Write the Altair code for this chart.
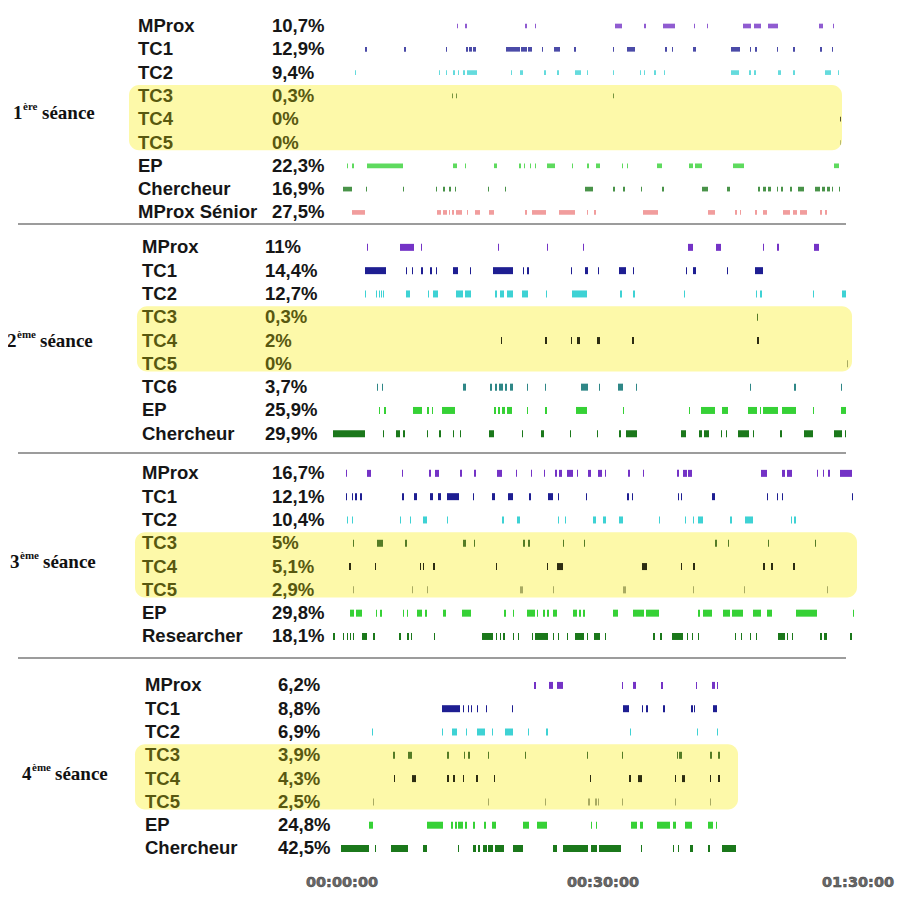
import altair as alt
import pandas as pd

# ---------------- data ----------------
session_numbers = ["1", "2", "3", "4"]
session_sup = ["ère", "ème", "ème", "ème"]
session_word = "séance"

s1_names = ["MProx", "TC1", "TC2", "TC3", "TC4", "TC5", "EP", "Chercheur", "MProx Sénior"]
s1_pcts = ["10,7%", "12,9%", "9,4%", "0,3%", "0%", "0%", "22,3%", "16,9%", "27,5%"]
s2_names = ["MProx", "TC1", "TC2", "TC3", "TC4", "TC5", "TC6", "EP", "Chercheur"]
s2_pcts = ["11%", "14,4%", "12,7%", "0,3%", "2%", "0%", "3,7%", "25,9%", "29,9%"]
s3_names = ["MProx", "TC1", "TC2", "TC3", "TC4", "TC5", "EP", "Researcher"]
s3_pcts = ["16,7%", "12,1%", "10,4%", "5%", "5,1%", "2,9%", "29,8%", "18,1%"]
s4_names = ["MProx", "TC1", "TC2", "TC3", "TC4", "TC5", "EP", "Chercheur"]
s4_pcts = ["6,2%", "8,8%", "6,9%", "3,9%", "4,3%", "2,5%", "24,8%", "42,5%"]

# speaking turns (start, end) on the timeline, one list per row
s1_turns = [
    [[117,118],[125,127],[185,187],[195,196],[275,282],[304,306],[323,335],[354,355],[367,368],[403,411],[414,421],[428,438],[479,483],[493,494]],
    [[25,27],[64,66],[106,107],[126,128],[129,132],[133,136],[166,180],[181,187],[188,192],[202,203],[214,220],[234,236],[273,274],[287,295],[325,327],[332,333],[353,356],[391,400],[410,411],[415,417],[437,438],[453,455],[480,482],[492,493]],
    [[15,16],[99,100],[106,107],[113,115],[118,119],[123,125],[127,137],[171,172],[180,183],[204,206],[217,219],[235,241],[247,248],[273,274],[300,301],[304,305],[314,316],[324,325],[391,399],[409,411],[414,416],[438,441],[453,455],[485,491],[498,499]],
    [[112,113],[116,117],[273,274]],
    [[500,501]],
    [[500,501]],
    [[7,8],[12,14],[27,63],[113,117],[125,126],[154,157],[179,181],[184,185],[190,191],[195,196],[207,215],[232,233],[247,249],[256,260],[282,283],[287,288],[317,322],[349,353],[355,362],[393,404],[494,499]],
    [[3,12],[26,27],[63,64],[96,97],[103,105],[109,111],[115,116],[148,149],[165,166],[245,253],[273,275],[283,285],[301,302],[322,324],[362,368],[387,390],[418,420],[423,426],[428,431],[437,438],[441,443],[450,452],[458,464],[475,480],[482,485],[487,490],[492,493],[499,500]],
    [[12,25],[97,101],[103,107],[109,110],[112,114],[116,122],[127,128],[135,140],[149,154],[185,187],[192,206],[219,235],[247,248],[254,256],[303,318],[368,375],[395,397],[400,401],[415,417],[423,427],[443,450],[453,457],[460,467],[480,482],[485,487]],
]
s2_turns = [
    [[27,28],[60,74],[81,82],[158,159],[207,208],[243,244],[348,353],[376,381],[423,424],[437,439],[474,479]],
    [[25,46],[66,67],[72,73],[81,83],[90,92],[96,97],[113,118],[130,131],[153,173],[183,184],[187,189],[231,232],[245,248],[258,259],[279,286],[293,294],[346,347],[353,356],[387,388],[415,423]],
    [[25,26],[36,37],[39,40],[41,42],[43,44],[66,70],[88,89],[93,98],[116,123],[125,131],[155,157],[160,164],[167,173],[182,188],[206,207],[232,247],[280,282],[293,295],[344,345],[416,417],[420,422],[473,474],[502,506]],
    [[417,418]],
    [[161,162],[205,207],[231,232],[237,240],[257,260],[292,294],[417,419]],
    [[507,508]],
    [[37,38],[42,43],[123,126],[150,152],[155,157],[159,163],[165,167],[170,173],[187,188],[205,206],[241,248],[259,260],[278,283],[296,297],[410,411],[454,456],[501,502]],
    [[39,40],[44,46],[73,82],[87,89],[92,93],[102,115],[154,156],[158,160],[162,165],[167,172],[187,188],[205,207],[236,247],[283,284],[349,350],[361,375],[382,388],[408,417],[420,421],[423,438],[442,456],[473,474],[501,506]],
    [[-7,25],[43,44],[56,60],[63,65],[87,88],[99,101],[113,114],[120,121],[149,154],[182,183],[201,204],[230,231],[257,258],[279,281],[286,297],[341,346],[359,362],[364,369],[381,382],[386,387],[398,409],[413,414],[440,442],[464,473],[494,502],[505,506]],
]
s3_turns = [
    [[6,7],[27,31],[62,63],[89,91],[95,99],[120,122],[134,136],[157,162],[176,177],[191,192],[204,205],[215,217],[219,222],[227,233],[237,238],[248,251],[258,262],[265,266],[288,290],[303,304],[337,339],[343,347],[348,352],[421,427],[442,445],[447,452],[477,478],[483,484],[488,490],[500,512]],
    [[6,7],[12,13],[15,17],[20,22],[62,64],[74,77],[90,93],[98,101],[107,119],[133,134],[152,155],[168,173],[189,191],[208,213],[218,219],[246,247],[287,289],[292,293],[338,339],[341,342],[372,375],[427,428],[437,438],[442,443],[512,513]],
    [[7,8],[12,13],[60,61],[70,71],[83,87],[107,108],[162,164],[177,180],[218,219],[225,226],[253,256],[263,266],[279,283],[319,320],[345,346],[353,354],[358,363],[390,392],[405,413],[451,452],[454,456]],
    [[13,14],[37,43],[65,67],[123,126],[134,135],[183,185],[188,190],[223,224],[244,245],[375,377],[388,389],[428,429],[475,476]],
    [[9,11],[35,36],[80,81],[83,84],[93,95],[156,157],[207,208],[217,223],[302,307],[341,342],[353,355],[423,425],[431,433],[453,455]],
    [[13,14],[72,73],[87,88],[180,183],[213,214],[283,286],[353,354],[404,405],[487,488]],
    [[10,14],[16,22],[36,37],[40,42],[63,64],[67,68],[77,82],[85,87],[103,106],[122,131],[164,166],[173,174],[187,195],[197,198],[203,205],[207,209],[213,217],[233,237],[239,241],[243,245],[273,278],[293,304],[306,319],[358,360],[363,372],[383,390],[392,403],[413,421],[427,432],[456,477],[513,514]],
    [[-7,-5],[3,4],[7,8],[10,11],[13,14],[22,27],[33,35],[59,61],[67,69],[71,72],[94,95],[142,153],[156,157],[160,161],[163,165],[173,174],[178,179],[192,193],[195,208],[213,214],[218,219],[227,228],[235,244],[247,248],[254,260],[265,266],[313,315],[320,322],[332,343],[347,348],[352,353],[358,359],[395,396],[401,402],[410,411],[416,417],[438,445],[447,448],[452,453],[480,482],[484,487],[510,512]],
]
s4_turns = [
    [[194,196],[209,213],[217,223],[282,283],[293,296],[321,323],[356,357],[372,375],[377,378]],
    [[102,120],[123,124],[128,129],[131,132],[137,138],[146,147],[172,173],[283,289],[302,303],[306,308],[323,325],[351,353],[354,355],[373,377]],
    [[32,33],[102,103],[112,117],[126,127],[137,145],[152,153],[165,173],[188,189],[206,208],[290,291],[357,358],[377,378]],
    [[53,55],[68,72],[107,109],[124,125],[128,130],[148,149],[185,186],[247,248],[282,283],[337,338],[339,342],[370,372],[378,380]],
    [[54,55],[72,76],[107,109],[113,115],[123,124],[136,138],[154,155],[250,251],[289,291],[298,302],[335,336],[342,345],[370,371],[378,380]],
    [[33,34],[148,149],[205,206],[248,250],[255,257],[258,259],[282,283],[335,336],[370,371]],
    [[29,33],[87,103],[111,113],[115,117],[118,123],[125,127],[133,135],[144,146],[152,156],[183,189],[197,207],[251,252],[256,257],[291,297],[300,303],[317,330],[333,336],[345,352],[368,373],[376,377]],
    [[1,29],[35,36],[51,68],[83,87],[118,119],[133,136],[138,140],[143,147],[148,153],[155,164],[173,183],[213,217],[223,248],[251,257],[259,281],[301,302],[333,334],[338,339],[350,353],[368,370],[382,396]],
]

tick_pos = [2, 263, 518]
tick_labels = ["00:00:00", "00:30:00", "01:30:00"]

# ---------------- styles / layout ----------------
colors = {
    "MProx": "#7433c6", "TC1": "#1e1e92", "TC2": "#3ed2d4", "TC3": "#557c26",
    "TC4": "#2d2d12", "TC5": "#a8aa62", "TC6": "#2f8787", "EP": "#36d136",
    "Chercheur": "#1b781b", "Researcher": "#1b781b", "MProx Sénior": "#ee8484",
}
boxed = {"TC3", "TC4", "TC5"}
session_row0 = [0, 9.5, 19.2, 28.3]
label_row_offset = [3.74, 4.0, 3.8, 3.8]
name_x_page = [138, 142, 142, 145]
pct_x_page = [272, 265, 272, 278]
box_left_page = [129, 137, 135, 135]
box_right_page = [842, 852, 857, 738]
sess_x_page = [13, 7, 10, 22]
sup_w = {"ère": 15, "ème": 19}
sep_rows = [8.5, 18.33, 27.12]
sep_x_page = [18, 846]
axis_row = 37.1


def px(p):
    return p - 340


all_names = [s1_names, s2_names, s3_names, s4_names]
all_pcts = [s1_pcts, s2_pcts, s3_pcts, s4_pcts]
all_turns = [s1_turns, s2_turns, s3_turns, s4_turns]

seg_rows, lab_rows, box_rows, sess_rows = [], [], [], []
for si in range(4):
    h = 0.1 if si == 0 else 0.15
    op = 0.8 if si == 0 else 1.0
    names = all_names[si]
    for ri, nm in enumerate(names):
        L = session_row0[si] + ri
        for a, b in all_turns[si][ri]:
            seg_rows.append(dict(x=a, x2=max(b, a + 1), y=L - h, y2=L + h,
                                 color=colors[nm], op=op))
        tc = "#585810" if nm in boxed else "#161616"
        lab_rows.append(dict(nx=px(name_x_page[si]), px_=px(pct_x_page[si]), y=L,
                             name=nm, pct=all_pcts[si][ri], tcolor=tc))
    i3 = names.index("TC3")
    i5 = names.index("TC5")
    box_rows.append(dict(x=px(box_left_page[si]), x2=px(box_right_page[si]),
                         y=session_row0[si] + i3 - 0.47, y2=session_row0[si] + i5 + 0.33))
    x0 = px(sess_x_page[si])
    sess_rows.append(dict(xd=x0, xs=x0 + 10, xw=x0 + 10 + sup_w[session_sup[si]] + 4,
                          y=session_row0[si] + label_row_offset[si],
                          d=session_numbers[si], s=session_sup[si], w=session_word))

seg_df = pd.DataFrame(seg_rows)
lab_df = pd.DataFrame(lab_rows)
box_df = pd.DataFrame(box_rows)
sess_df = pd.DataFrame(sess_rows)
sep_df = pd.DataFrame(dict(y=sep_rows, x=[px(sep_x_page[0])] * 3, x2=[px(sep_x_page[1])] * 3))
tick_df = pd.DataFrame(dict(x=tick_pos, label=tick_labels, y=[axis_row] * 3))

xs = alt.Scale(domain=[-332, 560], nice=False, zero=False)
ys = alt.Scale(domain=[-0.7725, 37.167], nice=False, zero=False, reverse=True)

boxes = alt.Chart(box_df).mark_rect(cornerRadius=10, color="#fdf9a9").encode(
    x=alt.X("x:Q", scale=xs, axis=None), x2="x2:Q",
    y=alt.Y("y:Q", scale=ys, axis=None), y2="y2:Q")

seps = alt.Chart(sep_df).mark_rule(color="#9c9c9c", strokeWidth=2).encode(
    x=alt.X("x:Q", scale=xs, axis=None), x2="x2:Q",
    y=alt.Y("y:Q", scale=ys, axis=None))

segs = alt.Chart(seg_df).mark_rect().encode(
    x=alt.X("x:Q", scale=xs, axis=None), x2="x2:Q",
    y=alt.Y("y:Q", scale=ys, axis=None), y2="y2:Q",
    color=alt.Color("color:N", scale=None),
    opacity=alt.Opacity("op:Q", scale=None))

txt = dict(font="Liberation Sans", fontSize=18.5, fontWeight="bold", align="left", baseline="middle")
names_l = alt.Chart(lab_df).mark_text(**txt).encode(
    x=alt.X("nx:Q", scale=xs, axis=None), y=alt.Y("y:Q", scale=ys, axis=None),
    text="name:N", color=alt.Color("tcolor:N", scale=None))
pcts_l = alt.Chart(lab_df).mark_text(**txt).encode(
    x=alt.X("px_:Q", scale=xs, axis=None), y=alt.Y("y:Q", scale=ys, axis=None),
    text="pct:N", color=alt.Color("tcolor:N", scale=None))

serif = dict(font="Liberation Serif", fontWeight="bold", align="left", baseline="middle", color="#111111")
sess_d = alt.Chart(sess_df).mark_text(fontSize=19, **serif).encode(
    x=alt.X("xd:Q", scale=xs, axis=None), y=alt.Y("y:Q", scale=ys, axis=None), text="d:N")
sess_s = alt.Chart(sess_df).mark_text(fontSize=11, dy=-6, **serif).encode(
    x=alt.X("xs:Q", scale=xs, axis=None), y=alt.Y("y:Q", scale=ys, axis=None), text="s:N")
sess_w = alt.Chart(sess_df).mark_text(fontSize=19, **serif).encode(
    x=alt.X("xw:Q", scale=xs, axis=None), y=alt.Y("y:Q", scale=ys, axis=None), text="w:N")

ticks = alt.Chart(tick_df).mark_text(font="DejaVu Sans", fontWeight="bold", fontSize=14.5,
                                      color="#6a6a6a", stroke="#3a3a3a", strokeWidth=0.5,
                                      align="center", baseline="bottom").encode(
    x=alt.X("x:Q", scale=xs, axis=None), y=alt.Y("y:Q", scale=ys, axis=None), text="label:N")

chart = alt.layer(boxes, seps, segs, names_l, pcts_l, sess_d, sess_s, sess_w, ticks).properties(
    width=892, height=884, padding=0,
    autosize=alt.AutoSizeParams(type="none"),
    background="white",
).configure_view(stroke=None)

chart.save("out.html", embed_options={"renderer": "svg", "actions": False})
